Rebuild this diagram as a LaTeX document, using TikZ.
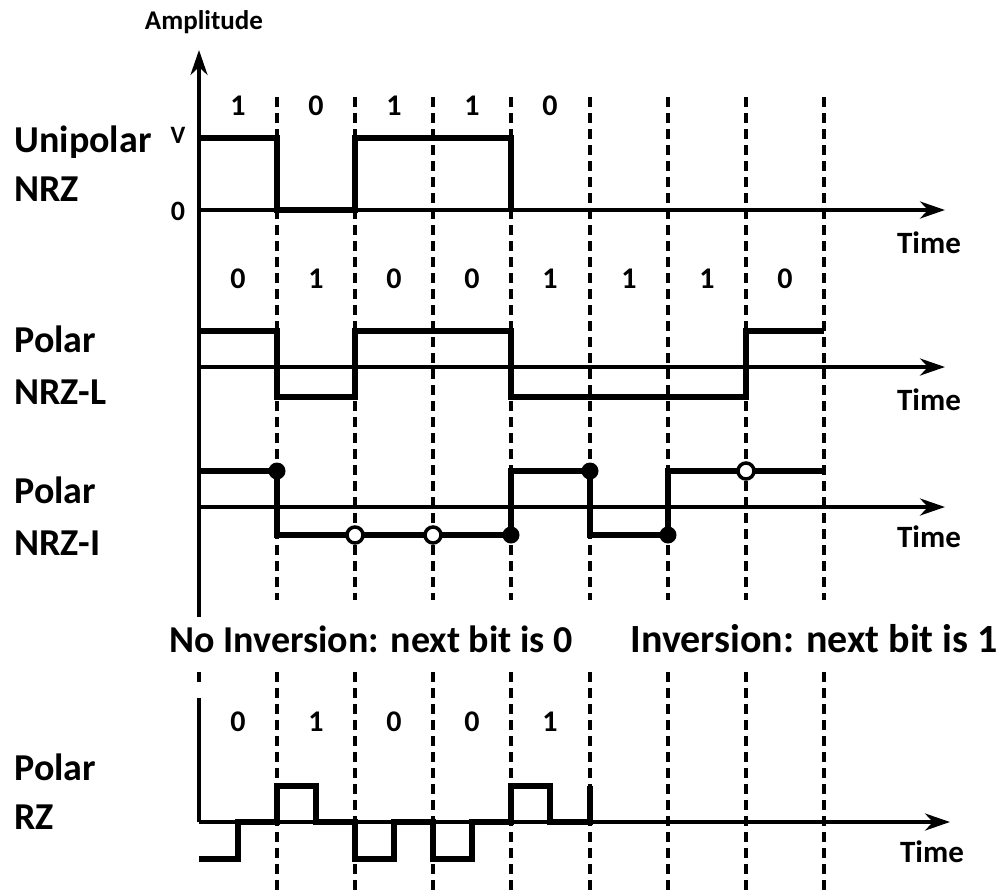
\documentclass[tikz,border=0pt]{standalone}
\usepackage{fontspec}
\setmainfont{Carlito}
\usepackage{tikz}
\usetikzlibrary{arrows.meta}

\tikzset{
  axisline/.style={line width=4pt, -{Stealth[length=25pt, width=17pt]}},
  wave/.style={line width=6pt, line join=miter},
  bitline/.style={line width=4.5pt, dash pattern=on 10pt off 6pt},
  bitnum/.style={font=\fontsize{30}{30}\selectfont\bfseries},
  codename/.style={anchor=base west, font=\fontsize{38}{38}\selectfont\bfseries},
  timelbl/.style={font=\fontsize{31}{31}\selectfont\bfseries},
  fulldot/.style={fill=black},
  hollowdot/.style={draw=black, fill=white, line width=3.5pt}
}

\begin{document}
\begin{tikzpicture}[x=1pt, y=-1pt, >=Stealth]
        \useasboundingbox (0,0) rectangle (1007,895);
        % Bit boundaries
        \foreach \t in {277,355,433,511,590,668,746,824}
          \draw [bitline] (\t,97) -- (\t,600);
        \foreach \t in {199,277,355,433,511,590,668,746,824}
          \draw [bitline] (\t,672) -- (\t,895);
        \fill [white] (190,684) rectangle (208,895);
        % Axes
        \draw [axisline] (199,617) -- (199,50);
        \draw [axisline] (199,210) -- (945,210);
        \draw [axisline] (199,367) -- (945,367);
        \draw [axisline] (199,507) -- (945,507);
        \draw [line width=4pt] (199,698) -- (199,822);
        \draw [axisline] (199,822) -- (950,822);
        \node (amp) at (204,22) {\fontsize{27}{27}\selectfont\bfseries Amplitude};
        \node (vlvl) at (178,135) {\fontsize{25}{25}\selectfont\bfseries V};
        \node (zlvl) at (178,211) {\fontsize{28}{28}\selectfont\bfseries 0};
        % Bit values
        \foreach \x/\b [count=\k] in {238/1,316/0,394/1,472/1,550/0}
          \node [bitnum] (ub\k) at (\x,106) {\b};
        \foreach \x/\b [count=\k] in {238/0,316/1,394/0,472/0,550/1,629/1,707/1,785/0}
          \node [bitnum] (pb\k) at (\x,279) {\b};
        \foreach \x/\b [count=\k] in {238/0,316/1,394/0,472/0,550/1}
          \node [bitnum] (rb\k) at (\x,722) {\b};
        % Code names
        \node [codename] (uni1) at (11,152) {Unipolar};
        \node [codename] (uni2) at (11,201) {NRZ};
        \node [codename] (nrzl1) at (11,352) {Polar};
        \node [codename] (nrzl2) at (11,404) {NRZ-L};
        \node [codename] (nrzi1) at (11,503) {Polar};
        \node [codename] (nrzi2) at (11,555) {NRZ-I};
        \node [codename] (rz1) at (11,780) {Polar};
        \node [codename] (rz2) at (11,829) {RZ};
        \node [timelbl] (tm1) at (929,243) {Time};
        \node [timelbl] (tm2) at (929,400) {Time};
        \node [timelbl] (tm3) at (929,537) {Time};
        \node [timelbl] (tm4) at (932,852) {Time};
        \node [codename] (noinv) at (166,652) {No Inversion: next bit is 0};
        \node [codename, font=\fontsize{40}{40}\selectfont\bfseries] (inv) at (627,652) {Inversion: next bit is 1};
        % Unipolar NRZ
        \draw [wave] (199,138) -- (277,138) -- (277,210) -- (355,210) -- (355,138)
          -- (511,138) -- (511,210);
        % Polar NRZ-L
        \draw [wave] (199,331) -- (277,331) -- (277,397) -- (355,397) -- (355,331)
          -- (511,331) -- (511,397) -- (746,397) -- (746,331) -- (824,331);
        % Polar NRZ-I
        \draw [wave] (199,471) -- (277,471) -- (277,535) -- (511,535) -- (511,471)
          -- (590,471) -- (590,535) -- (668,535) -- (668,471) -- (824,471);
        \foreach \p in {(277,471),(511,535),(590,471),(668,535)}
          \fill [fulldot] \p circle (8.5pt);
        \foreach \p in {(355,535),(433,535),(746,471)}
          \draw [hollowdot] \p circle (8pt);
        % Polar RZ
        \draw [wave] (199,859) -- (238,859) -- (238,822) -- (277,822) -- (277,786)
          -- (316,786) -- (316,822) -- (355,822) -- (355,859) -- (394,859)
          -- (394,822) -- (433,822) -- (433,859) -- (472,859) -- (472,822)
          -- (511,822) -- (511,786) -- (550,786) -- (550,822) -- (590,822)
          -- (590,786);
\end{tikzpicture}
\end{document}
